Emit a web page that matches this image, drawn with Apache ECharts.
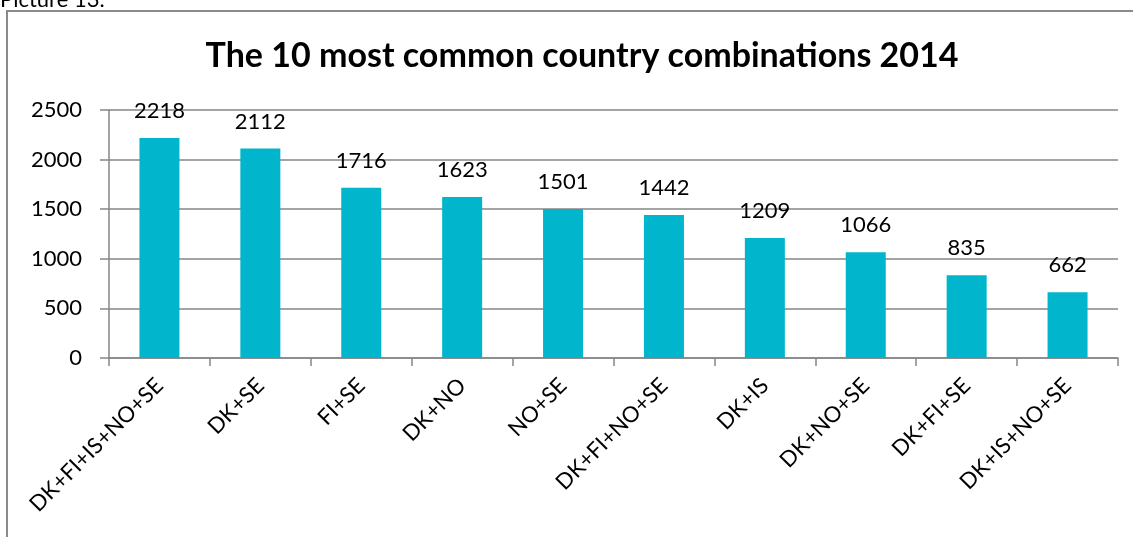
<!DOCTYPE html>
<html><head><meta charset="utf-8">
<script src="https://cdn.jsdelivr.net/npm/echarts@6/dist/echarts.min.js"></script>
<style>html,body{margin:0;padding:0;background:#fff}#c{width:1133px;height:537px}</style>
</head><body><div id="c"></div>
<script>
const categories = ['DK+FI+IS+NO+SE','DK+SE','FI+SE','DK+NO','NO+SE','DK+FI+NO+SE','DK+IS','DK+NO+SE','DK+FI+SE','DK+IS+NO+SE'];
const values = [2218,2112,1716,1623,1501,1442,1209,1066,835,662];
const yTicks = [0,500,1000,1500,2000,2500];
const FONT = 'Lato, "Open Sans", sans-serif';
const chart = echarts.init(document.getElementById('c'));
chart.setOption({
  animation:false,
  title:{text:'The 10 most common country combinations 2014',left:577,textAlign:'center',top:34,
    textStyle:{fontFamily:FONT,fontWeight:'bold',fontSize:34,color:'#000'}},
  graphic:[
    {type:'rect',shape:{x:7,y:11,width:1140,height:540},style:{fill:'none',stroke:'#8a8a8a',lineWidth:2},silent:true},
    {type:'text',left:0,top:-11,style:{text:'Picture 13.',font:'22px '+FONT,fill:'#000'}}
  ],
  grid:{left:109,right:15,top:110,bottom:179},
  xAxis:{type:'category',data:categories,
    axisLine:{lineStyle:{color:'#868686',width:1.5}},
    axisTick:{show:true,length:8,alignWithLabel:false,lineStyle:{color:'#868686',width:1.5}},
    axisLabel:{rotate:45,fontFamily:FONT,fontSize:22,color:'#000',margin:24,interval:0}},
  yAxis:{type:'value',min:yTicks[0],max:yTicks[yTicks.length-1],interval:500,
    axisLine:{show:true,lineStyle:{color:'#868686',width:1.5}},
    axisTick:{show:true,length:9,lineStyle:{color:'#868686',width:1.5}},
    splitLine:{lineStyle:{color:'#868686',width:1.5}},
    axisLabel:{fontFamily:FONT,fontSize:22,color:'#000',margin:27,formatter:v=>String(v)}},
  series:[{type:'bar',data:values,barWidth:40,itemStyle:{color:'#00B5CC'},
    label:{show:true,position:'top',distance:16,fontFamily:FONT,fontSize:22,color:'#000'}}]
});
</script></body></html>
